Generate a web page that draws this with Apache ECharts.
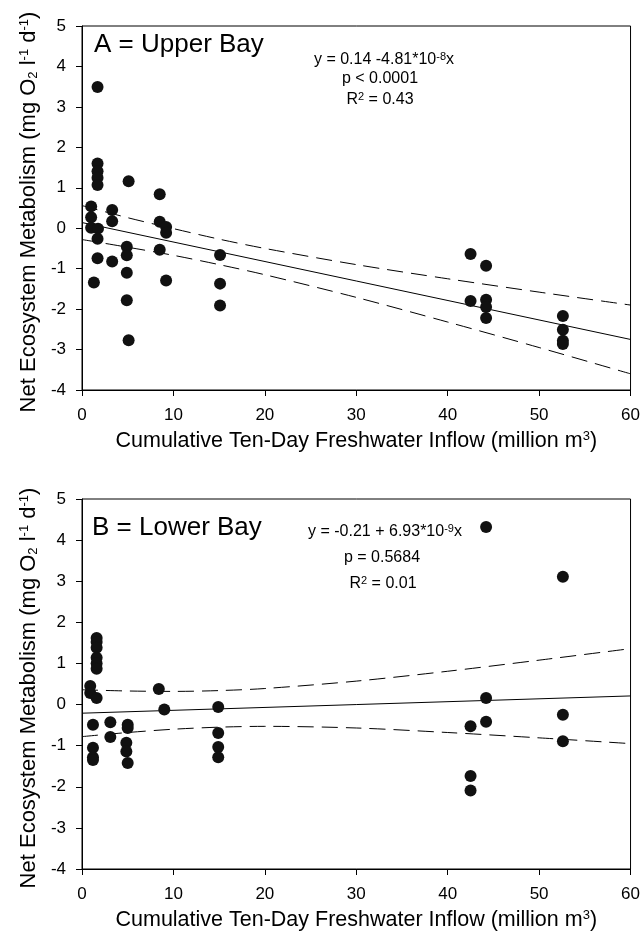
<!DOCTYPE html>
<html>
<head>
<meta charset="utf-8">
<script src="https://cdn.jsdelivr.net/npm/echarts@6/dist/echarts.min.js"></script>
<style>
  html, body { margin: 0; padding: 0; background: #fff; }
  #chart { width: 643px; height: 935px; }
</style>
</head>
<body>
<div id="chart"></div>
<script>
// A = Upper Bay observations
const upperX = [1.7, 1.7, 1.7, 1.7, 1.7, 5.1, 8.5, 1.0, 3.3, 1.0, 3.3, 8.5, 9.2, 9.2, 1.0, 1.75, 1.7, 4.9, 4.9, 8.5, 1.7, 3.3, 4.9, 1.3, 9.2, 4.9, 5.1, 15.1, 15.1, 15.1, 42.5, 44.2, 42.5, 44.2, 44.2, 44.2, 52.6, 52.6, 52.6, 52.6]
const upperY = [3.49, 1.60, 1.41, 1.25, 1.07, 1.16, 0.84, 0.54, 0.45, 0.27, 0.17, 0.16, 0.03, -0.11, 0.01, -0.01, -0.26, -0.46, -0.67, -0.53, -0.74, -0.82, -1.10, -1.34, -1.29, -1.78, -2.77, -0.66, -1.37, -1.91, -0.64, -0.93, -1.80, -1.77, -1.95, -2.22, -2.17, -2.51, -2.78, -2.86]

// B = Lower Bay observations
const lowerX = [1.6, 1.6, 1.6, 1.6, 1.6, 1.6, 0.9, 0.9, 1.6, 8.4, 9.0, 1.2, 3.1, 3.1, 5.0, 5.0, 4.85, 4.85, 5.0, 1.2, 1.2, 1.2, 14.9, 14.9, 14.9, 14.9, 44.2, 52.6, 44.2, 44.2, 42.5, 52.6, 52.6, 42.5, 42.5]
const lowerY = [1.62, 1.52, 1.38, 1.14, 1.00, 0.87, 0.45, 0.28, 0.16, 0.38, -0.12, -0.49, -0.43, -0.79, -0.49, -0.57, -0.93, -1.14, -1.42, -1.05, -1.28, -1.35, -0.06, -0.69, -1.03, -1.28, 4.32, 3.11, 0.16, -0.42, -0.53, -0.25, -0.89, -1.74, -2.09]

// regression lines (end points) and confidence bands
const fitX = [0, 60]
const upperFit = [0.14, -2.75]
const lowerFit = [-0.21, 0.21]
const bandX = [0, 5, 10, 15, 20, 30, 40, 50, 60]
const upperBandHi = [0.56, 0.26, -0.01, -0.27, -0.50, -0.90, -1.25, -1.58, -1.90]
const upperBandLo = [-0.28, -0.47, -0.67, -0.90, -1.15, -1.71, -2.32, -2.95, -3.60]
const lowerBandHi = [0.36, 0.33, 0.32, 0.34, 0.39, 0.57, 0.81, 1.08, 1.36]
const lowerBandLo = [-0.78, -0.68, -0.60, -0.55, -0.53, -0.57, -0.68, -0.81, -0.95]

const xTicks = [0, 10, 20, 30, 40, 50, 60]
const yTicks = [-4, -3, -2, -1, 0, 1, 2, 3, 4, 5]

const FONT = "'Liberation Sans', Arial, sans-serif"
const pair = (xs, ys) => xs.map((x, i) => [x, ys[i]])

const supRich = {
    sup: { fontSize: 13, fontFamily: FONT, color: '#000', verticalAlign: 'top', padding: [0, 0, 9, 0] },
    sub: { fontSize: 13, fontFamily: FONT, color: '#000', verticalAlign: 'bottom', padding: [7, 0, 0, 0] }
}

const xAxisCfg = (gridIndex) => ({
    type: 'value',
    gridIndex,
    min: xTicks[0],
    max: xTicks[xTicks.length - 1],
    interval: 10,
    name: 'Cumulative Ten-Day Freshwater Inflow (million m{sup|3})',
    nameLocation: 'middle',
    nameGap: 40,
    nameTextStyle: { fontSize: 21.5, fontFamily: FONT, color: '#000', rich: supRich },
    axisLine: { onZero: false, lineStyle: { color: '#000', width: 1 } },
    axisTick: { inside: false, length: 6, lineStyle: { color: '#000' } },
    axisLabel: { fontSize: 17, fontFamily: FONT, color: '#000', margin: 17 },
    splitLine: { show: false }
})

const yAxisCfg = (gridIndex) => ({
    type: 'value',
    gridIndex,
    min: yTicks[0],
    max: yTicks[yTicks.length - 1],
    interval: 1,
    name: 'Net Ecosystem Metabolism (mg O{sub|2} l{sup|-1} d{sup|-1})',
    nameLocation: 'middle',
    nameRotate: 90,
    nameGap: 42,
    nameTextStyle: { fontSize: 22, fontFamily: FONT, color: '#000', rich: supRich, padding: [0, 8, 0, 0] },
    axisLine: { onZero: false, lineStyle: { color: '#000', width: 1 } },
    axisTick: { inside: false, length: 6, lineStyle: { color: '#000' } },
    axisLabel: { fontSize: 17, fontFamily: FONT, color: '#000', margin: 16 },
    splitLine: { show: false }
})

const scatter = (idx, data) => ({
    type: 'scatter', xAxisIndex: idx, yAxisIndex: idx, data,
    symbolSize: 12, itemStyle: { color: '#111', opacity: 1 }, z: 5
})
const line = (idx, data, dashed) => ({
    type: 'line', xAxisIndex: idx, yAxisIndex: idx, data,
    smooth: dashed ? 0.3 : false, showSymbol: false, silent: true,
    lineStyle: { color: '#000', width: 1, type: dashed ? [16, 8] : 'solid' }
})

const textEl = (x, y, text, size) => ({
    type: 'text', x, y,
    style: {
        text, fill: '#000', font: size + 'px ' + FONT,
        align: 'center', verticalAlign: 'middle',
        rich: {
            sup: { fontSize: 11, fontFamily: FONT, fill: '#000', verticalAlign: 'top', padding: [0, 0, 7, 0] }
        }
    }
})

const chart = echarts.init(document.getElementById('chart'))
chart.setOption({
    animation: false,
    backgroundColor: '#fff',
    grid: [
        { left: 82, top: 26, width: 549, height: 364, show: true, borderColor: '#000', borderWidth: 1 },
        { left: 82, top: 499, width: 549, height: 370, show: true, borderColor: '#000', borderWidth: 1 }
    ],
    xAxis: [xAxisCfg(0), xAxisCfg(1)],
    yAxis: [yAxisCfg(0), yAxisCfg(1)],
    series: [
        line(0, pair(fitX, upperFit), false),
        line(0, pair(bandX, upperBandHi), true),
        line(0, pair(bandX, upperBandLo), true),
        scatter(0, pair(upperX, upperY)),
        line(1, pair(fitX, lowerFit), false),
        line(1, pair(bandX, lowerBandHi), true),
        line(1, pair(bandX, lowerBandLo), true),
        scatter(1, pair(lowerX, lowerY))
    ],
    graphic: [
        { type: 'text', left: 94, top: 32, style: { text: 'A = Upper Bay', font: '26px ' + FONT, fill: '#000' } },
        textEl(384, 60, 'y = 0.14 -4.81*10{sup|-8}x', 16),
        textEl(380, 79, 'p < 0.0001', 16),
        textEl(380, 100, 'R{sup|2} = 0.43', 16),
        { type: 'text', left: 92, top: 515, style: { text: 'B = Lower Bay', font: '26px ' + FONT, fill: '#000' } },
        textEl(385, 532, 'y = -0.21 + 6.93*10{sup|-9}x', 16),
        textEl(382, 558, 'p = 0.5684', 16),
        textEl(383, 584, 'R{sup|2} = 0.01', 16)
    ]
})
</script>
</body>
</html>
